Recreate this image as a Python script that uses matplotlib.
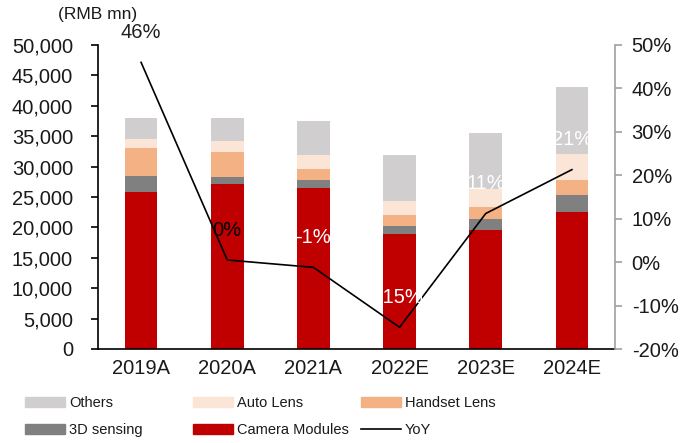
import matplotlib
matplotlib.use("Agg")
import matplotlib.pyplot as plt
import numpy as np
from matplotlib.patches import Patch
from matplotlib.lines import Line2D
from matplotlib.ticker import FuncFormatter, MultipleLocator

plt.rcParams['font.family'] = ['Liberation Sans', 'DejaVu Sans']

years = ["2019A", "2020A", "2021A", "2022E", "2023E", "2024E"]
camera_modules = [25800, 27100, 26400, 18900, 19500, 22500]
sensing_3d = [2600, 1250, 1350, 1300, 1900, 2900]
handset_lens = [4650, 4000, 1900, 1900, 2000, 2350]
auto_lens = [1550, 1900, 2300, 2300, 2850, 4300]
others = [3400, 3700, 5600, 7550, 9350, 11100]
yoy = [46, 0.5, -1.2, -15, 11.2, 21.3]
yoy_labels = ["46%", "0%", "-1%", "-15%", "11%", "21%"]
yoy_label_colors = ["#202020", "#000000", "white", "white", "white", "white"]

series = [
    ("Camera Modules", camera_modules, "#C00000"),
    ("3D sensing", sensing_3d, "#808080"),
    ("Handset Lens", handset_lens, "#F4B183"),
    ("Auto Lens", auto_lens, "#FBE5D6"),
    ("Others", others, "#D0CECE"),
]

fig = plt.figure(figsize=(6.8, 4.43), dpi=100)
ax = fig.add_axes([98/680, 1-349/443, (615-98)/680, (349-45)/443])
x = np.arange(len(years))
bottom = np.zeros(len(years))
for name, vals, col in series:
    ax.bar(x, vals, width=0.38, bottom=bottom, color=col, linewidth=0, zorder=2)
    bottom += np.array(vals)

ax.set_xlim(-0.5, len(years) - 0.5)
ax.set_ylim(0, 50000)
ax.yaxis.set_major_locator(MultipleLocator(5000))
ax.yaxis.set_major_formatter(FuncFormatter(lambda v, p: f"{int(round(v)):,}"))
ax.set_xticks(x)
ax.set_xticklabels(years)
ax.tick_params(axis='x', length=0, pad=7, labelsize=14.5, labelcolor="#1a1a1a")
ax.tick_params(axis='y', direction='out', length=5, width=1.2, pad=13, labelsize=14.5, labelcolor="#1a1a1a")
for s in ["top", "right"]:
    ax.spines[s].set_visible(False)
ax.spines["left"].set_linewidth(1.2)
ax.spines["bottom"].set_linewidth(1.2)

ax2 = ax.twinx()
ax2.plot(x, np.array(yoy) / 100, color="#000000", lw=1.2, zorder=5)
ax2.set_ylim(-0.2, 0.5)
ax2.yaxis.set_major_locator(MultipleLocator(0.1))
ax2.yaxis.set_major_formatter(FuncFormatter(lambda v, p: f"{int(round(v*100))}%"))
ax2.tick_params(axis='y', direction='out', length=5, width=1.2, color="#A0A0A0", pad=7, labelsize=14.5, labelcolor="#1a1a1a")
for s in ["top", "left", "bottom"]:
    ax2.spines[s].set_visible(False)
ax2.spines["right"].set_color("#A0A0A0")
ax2.spines["right"].set_linewidth(1.2)

for xi, v, lab, c in zip(x, yoy, yoy_labels, yoy_label_colors):
    ax2.annotate(lab, (xi, v / 100), xytext=(0, 21.5), textcoords="offset points",
                 ha="center", va="center", fontsize=14.5, color=c, zorder=6)

fig.text(58/680, 1-14/443, "(RMB mn)", fontsize=12.5, color="#1a1a1a", va="center", ha="left")

leg_kw = dict(loc="upper left", frameon=False, borderpad=0, borderaxespad=0, fontsize=10.5,
              handlelength=2.75, handleheight=0.7, handletextpad=0.25, labelspacing=0.92,
              labelcolor="#1a1a1a")
col_map = dict((n, c) for n, _, c in series)
fig.legend(handles=[Patch(color=col_map["Others"], label="Others"),
                    Patch(color=col_map["3D sensing"], label="3D sensing")],
           bbox_to_anchor=(25/680, 1-396/443), **leg_kw)
fig.legend(handles=[Patch(color=col_map["Auto Lens"], label="Auto Lens"),
                    Patch(color=col_map["Camera Modules"], label="Camera Modules")],
           bbox_to_anchor=(193/680, 1-396/443), **leg_kw)
fig.legend(handles=[Patch(color=col_map["Handset Lens"], label="Handset Lens"),
                    Line2D([], [], color="#000000", lw=1.2, label="YoY")],
           bbox_to_anchor=(361/680, 1-396/443), **leg_kw)

fig.savefig("out.png", dpi=100)
